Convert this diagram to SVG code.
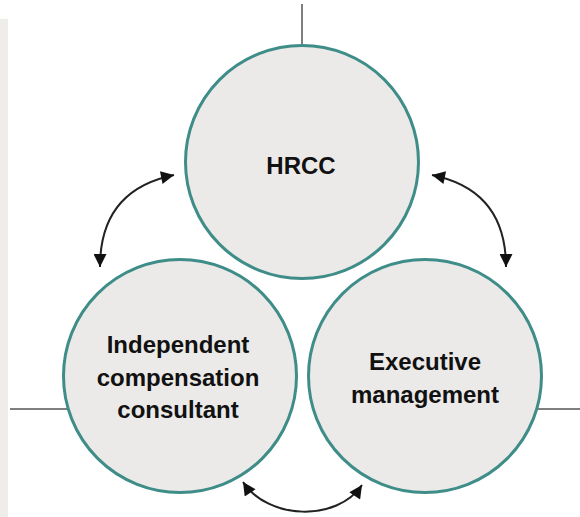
<svg xmlns="http://www.w3.org/2000/svg" width="580" height="517" viewBox="0 0 580 517">
  <style>
    .node circle { fill: #ebeae8; stroke: #3f8d88; stroke-width: 3; }
    .node text { font-family: "Liberation Sans", Arial, sans-serif; font-weight: bold; font-size: 24px; fill: #111; text-anchor: middle; }
    .rule { stroke: #555; stroke-width: 1.5; fill: none; }
    .arrow { stroke: #222; stroke-width: 2; fill: none; marker-start: url(#head); marker-end: url(#head); }
  </style>
  <defs>
    <marker id="head" viewBox="0 0 10 10" refX="10" refY="5" markerUnits="userSpaceOnUse" markerWidth="17" markerHeight="13" orient="auto-start-reverse">
      <path d="M0,0 L10,5 L0,10 z" fill="#111"/>
    </marker>
  </defs>
  <rect x="0" y="19" width="8" height="498" fill="#eeede9"/>
  <g id="rules">
    <line class="rule" x1="302" y1="4" x2="302" y2="50"/>
    <line class="rule" x1="10" y1="409" x2="70" y2="409"/>
    <line class="rule" x1="535" y1="409" x2="580" y2="409"/>
  </g>
  <g id="hrcc" class="node">
    <circle cx="302" cy="162" r="116.5"/>
    <text x="301" y="174">HRCC</text>
  </g>
  <g id="consultant" class="node">
    <circle cx="180" cy="376" r="116.5"/>
    <text x="178" y="353">Independent</text>
    <text x="178" y="386">compensation</text>
    <text x="178" y="418">consultant</text>
  </g>
  <g id="executive" class="node">
    <circle cx="425" cy="376" r="116.5"/>
    <text x="425" y="370">Executive</text>
    <text x="425" y="403">management</text>
  </g>
  <g id="connectors">
    <path class="arrow" d="M100 267 C 100 215, 125 185, 174 175"/>
    <path class="arrow" d="M506 267 C 506 215, 481 185, 432 175"/>
    <path class="arrow" d="M243 482 C 268 520, 337 522, 362 485"/>
  </g>
</svg>
